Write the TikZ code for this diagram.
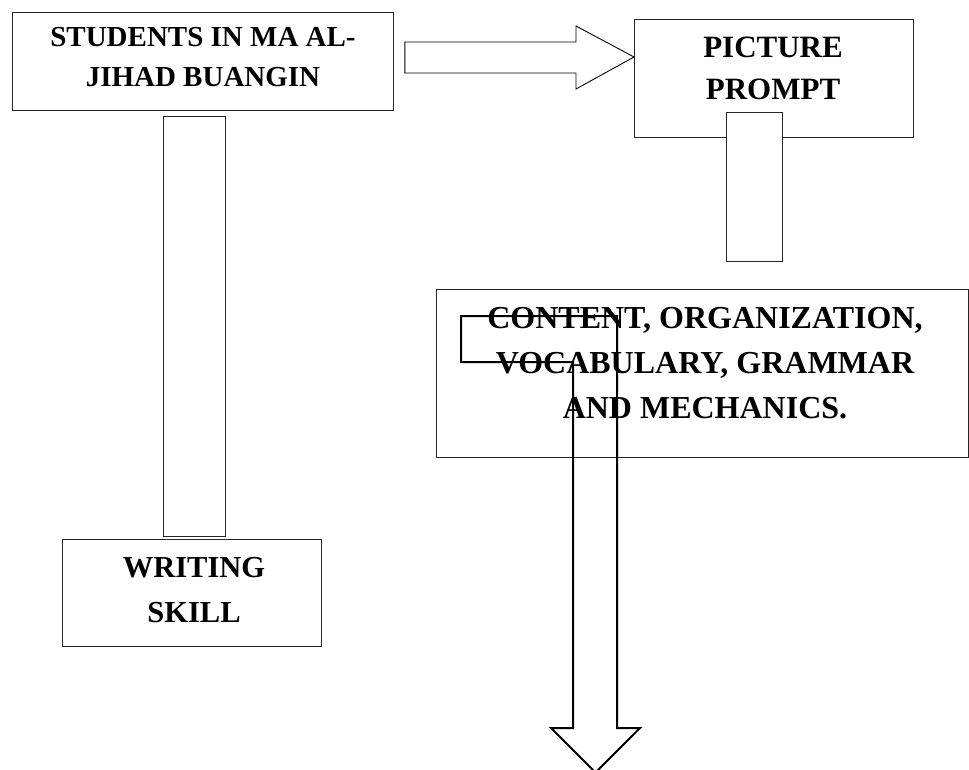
\documentclass[tikz,border=0pt]{standalone}
\usepackage{fontspec}
\setmainfont{Liberation Serif}
\begin{document}
\begin{tikzpicture}[x=1pt,y=-1pt,
  box/.style={draw=black!85,line width=0.8pt,fill=white,inner sep=0pt,anchor=north west},
  lbl/.style={align=center,inner sep=0pt,anchor=base},
  blockarrow/.style={draw=black,line width=0.9pt,line join=miter},
  bentarrow/.style={draw=black,line width=2pt,line join=miter}]
\useasboundingbox (0,0) rectangle (969,770);
\clip (0,0) rectangle (969,770);
% boxes
\node[box,minimum width=381pt,minimum height=98pt] (students) at (12,12) {};
\node[box,minimum width=62pt,minimum height=420pt] (bar) at (163,116) {};
\node[box,minimum width=259pt,minimum height=107pt] (writing) at (62,539) {};
\node[box,minimum width=279pt,minimum height=118pt] (picture) at (634,19) {};
\node[box,minimum width=56pt,minimum height=149pt] (pbar) at (726,112) {};
\node[box,minimum width=532pt,minimum height=168pt] (content) at (436,289) {};
% texts
\node[lbl,font=\fontsize{29}{40}\selectfont\bfseries] (tstudents) at (203,86.7) {STUDENTS IN MA AL-\\JIHAD BUANGIN};
\node[lbl,font=\fontsize{31}{42}\selectfont\bfseries] (tpicture) at (773,100) {PICTURE\\PROMPT};
\node[lbl,font=\fontsize{30.5}{45}\selectfont\bfseries] (twriting) at (194,622) {WRITING\\SKILL};
\node[lbl,font=\fontsize{32}{44.6}\selectfont\bfseries] (tcontent) at (705,418) {CONTENT, ORGANIZATION,\\VOCABULARY, GRAMMAR\\AND MECHANICS.};
% right block arrow
\draw[blockarrow] (students.east |- 0,42) ++(11,0) coordinate (ra) -- (576,42) -- (576,26) -- (picture.west |- 0,57) -- (576,89) -- (576,73) -- (ra |- 0,73) -- cycle;
% bent down arrow
\draw[bentarrow] (595.5,772.5) -- (640,728) -- (617,728) -- (617,316) -- (461,316) -- (461,362) -- (573,362) -- (573,728) -- (551,728) -- cycle;
\end{tikzpicture}
\end{document}
